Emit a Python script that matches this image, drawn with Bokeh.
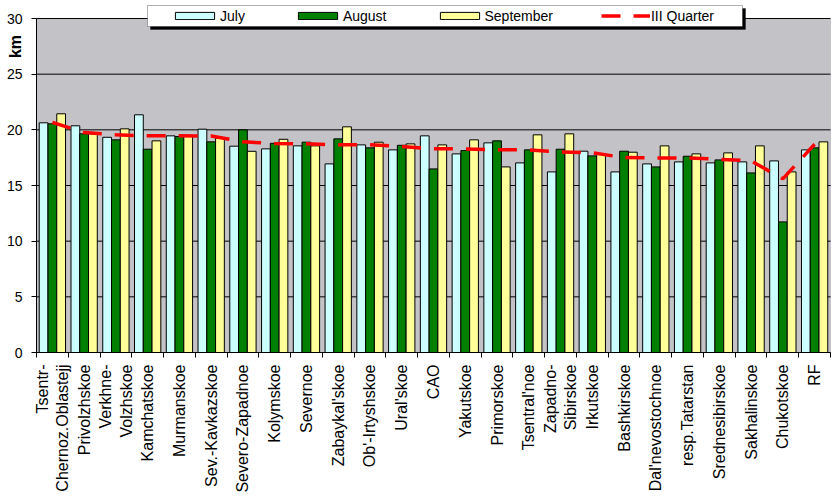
import math
from bokeh.plotting import figure
from bokeh.models import (ColumnDataSource, Range1d, FixedTicker, LinearAxis,
                          Legend, LegendItem, Label, BoxAnnotation)
from bokeh.transform import dodge
from bokeh.embed import file_html
from bokeh.resources import INLINE

# ---- data ----
regions = ["Tsentr-\nChernoz.Oblastejj", "Privolzhskoe", "Verkhne-\nVolzhskoe", "Kamchatskoe",
           "Murmanskoe", "Sev.-Kavkazskoe", "Severo-Zapadnoe", "Kolymskoe", "Severnoe",
           "Zabaykal'skoe", "Ob'-Irtyshskoe", "Ural'skoe", "CAO", "Yakutskoe", "Primorskoe",
           "Tsentral'noe", "Zapadno-\nSibirskoe", "Irkutskoe", "Bashkirskoe", "Dal'nevostochnoe",
           "resp.Tatarstan", "Srednesibirskoe", "Sakhalinskoe", "Chukotskoe", "RF"]
july = [20.63, 20.36, 19.33, 21.35, 19.46, 20.06, 18.53, 18.29, 18.56, 16.94, 18.65, 18.20, 19.46,
        17.84, 18.83, 17.03, 16.22, 18.08, 16.22, 16.94, 17.12, 17.03, 17.12, 17.21, 18.20]
august = [20.54, 19.64, 19.10, 18.26, 19.40, 18.92, 20.00, 18.79, 18.89, 19.19, 18.38, 18.61, 16.49,
          18.14, 19.01, 18.20, 18.26, 17.66, 18.08, 16.67, 17.63, 17.30, 16.13, 11.73, 18.38]
september = [21.44, 19.64, 20.09, 19.01, 19.46, 19.25, 18.07, 19.15, 18.56, 20.27, 18.89, 18.74, 18.65,
             19.10, 16.67, 19.55, 19.64, 17.84, 17.99, 18.56, 17.84, 17.93, 18.56, 16.22, 18.92]
quarter = [20.67, 19.75, 19.55, 19.46, 19.46, 19.45, 18.92, 18.77, 18.74, 18.65, 18.65, 18.50, 18.29,
           18.29, 18.20, 18.20, 18.02, 17.93, 17.51, 17.48, 17.48, 17.35, 17.21, 15.60, 18.70]
y_ticks = [0, 5, 10, 15, 20, 25, 30]
y_max = 30
series_names = ["July", "August", "September", "III Quarter"]
y_title = "km"

n = len(regions)
pos = list(range(1, n + 1))
src = ColumnDataSource(dict(x=pos, july=july, august=august, september=september, quarter=quarter))

FONT = "Liberation Sans"

# layout (pixels): canvas 834x498, plot area from x=36..830, y=18..352
W, H = 834, 498
PL, PR, PT, PB = 36, 830, 18, 352
ux = n / (PR - PL)          # data units per px (x)
uy = y_max / (PB - PT)      # data units per px (y)
x_lo, x_hi = 0.5, n + 0.5

p = figure(width=W, height=H,
           x_range=Range1d(x_lo - PL * ux, x_hi + (W - PR) * ux),
           y_range=Range1d(-(H - PB) * uy, y_max + PT * uy),
           output_backend="svg", toolbar_location=None,
           x_axis_location=None, y_axis_location=None,
           min_border_left=0, min_border_right=0, min_border_top=0, min_border_bottom=0)
p.background_fill_color = "white"
p.border_fill_color = "white"
p.outline_line_color = None
p.xgrid.grid_line_color = None
p.ygrid.grid_line_color = None

# plot area
p.add_layout(BoxAnnotation(left=x_lo, right=x_hi, bottom=0, top=y_max, level="image",
                           fill_color="#C3C2C6", fill_alpha=1, line_color="#808080", line_width=1))

# horizontal gridlines at the tick values
p.segment(x0=[x_lo] * len(y_ticks), x1=[x_hi] * len(y_ticks), y0=y_ticks, y1=y_ticks,
          line_color="black", line_width=1)

bw = 0.276
rj = p.vbar(x=dodge("x", -bw, range=p.x_range), top="july", width=bw, source=src,
            fill_color="#CCFFFF", line_color="black", line_width=1)
ra = p.vbar(x="x", top="august", width=bw, source=src,
            fill_color="#008000", line_color="black", line_width=1)
rs = p.vbar(x=dodge("x", bw, range=p.x_range), top="september", width=bw, source=src,
            fill_color="#FFFF99", line_color="black", line_width=1)
rq = p.line(x="x", y="quarter", source=src, line_color="#FF0000", line_width=3.5,
            line_dash="19 13")

# x axis, fixed at y = 0
xa = LinearAxis(fixed_location=0, bounds=(x_lo, x_hi),
                ticker=FixedTicker(ticks=pos, minor_ticks=[i + 0.5 for i in range(n + 1)]))
xa.major_label_overrides = {i + 1: lab for i, lab in enumerate(regions)}
xa.major_label_orientation = math.pi / 2
xa.major_tick_out = 0
xa.major_tick_in = 0
xa.minor_tick_out = 5
xa.minor_tick_in = 0
xa.minor_tick_line_color = "black"
xa.axis_line_color = "black"
xa.major_label_text_font = FONT
xa.major_label_text_font_size = "16px"
xa.major_label_text_color = "black"
xa.major_label_standoff = 7
p.add_layout(xa, "below")

# y axis, fixed at the left edge of the plot area
ya = LinearAxis(fixed_location=x_lo, bounds=(0, y_max), ticker=FixedTicker(ticks=y_ticks))
ya.major_tick_out = 5
ya.major_tick_in = 0
ya.minor_tick_line_color = None
ya.axis_line_color = "black"
ya.major_label_text_font = FONT
ya.major_label_text_font_size = "14px"
ya.major_label_text_color = "black"
ya.major_label_standoff = 9
p.add_layout(ya, "left")

# y axis title
p.add_layout(Label(x=x_lo - 21.5 * ux, y=(PB - 46) * uy, text=y_title,
                   angle=math.pi / 2, text_align="center", text_baseline="middle",
                   text_font=FONT, text_font_size="16px", text_font_style="bold",
                   text_color="black"))

# legend box + shadow (screen px relative to the frame's bottom-left)
p.add_layout(BoxAnnotation(left=150, right=745, top=H - 8, bottom=H - 29,
                           left_units="screen", right_units="screen",
                           top_units="screen", bottom_units="screen",
                           fill_color="black", fill_alpha=1, line_color="black"))
p.add_layout(BoxAnnotation(left=147, right=742, top=H - 5, bottom=H - 26,
                           left_units="screen", right_units="screen",
                           top_units="screen", bottom_units="screen",
                           fill_color="white", fill_alpha=1, line_color="black", line_width=1))

legend = Legend(items=[LegendItem(label=series_names[0], renderers=[rj]),
                       LegendItem(label=series_names[1], renderers=[ra]),
                       LegendItem(label=series_names[2], renderers=[rs]),
                       LegendItem(label=series_names[3], renderers=[rq])],
                orientation="horizontal", location=(170, H - 26),
                padding=0, margin=0, spacing=48, glyph_width=49, glyph_height=9,
                label_height=21, label_standoff=1,
                label_text_font=FONT, label_text_font_size="14px", label_text_color="black",
                border_line_color=None, background_fill_alpha=0)
p.add_layout(legend, "center")

html = file_html(p, INLINE)
open("out.html", "w").write(html)
